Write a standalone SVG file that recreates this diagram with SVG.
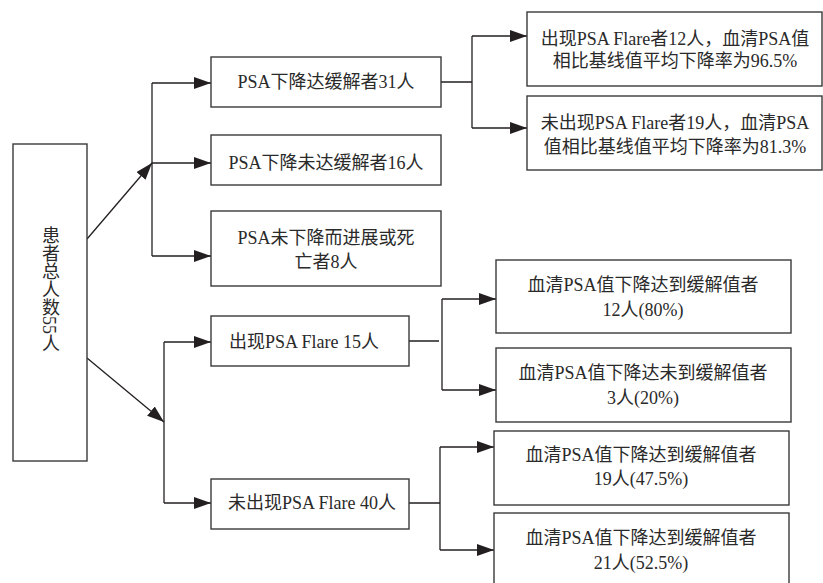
<svg xmlns="http://www.w3.org/2000/svg" width="823" height="583" viewBox="0 0 823 583">
<style>
.box{fill:#fff;stroke:#3a3a3a;stroke-width:1.4}
.t{font-family:"Liberation Serif","Noto Sans CJK SC",serif;font-size:18px;fill:#2a2a2a}
.c{text-anchor:middle}
.ln{fill:none;stroke:#231f20;stroke-width:1.3}
</style>
<defs>
<marker id="ah" markerUnits="userSpaceOnUse" markerWidth="18" markerHeight="12" refX="17" refY="6" orient="auto">
<path d="M0,0 L17,6 L0,12 Z" fill="#231f20"/>
</marker>
</defs>
<rect width="823" height="583" fill="#fff"/>
<g id="connectors">
<line class="ln" x1="87" y1="239" x2="152" y2="163" marker-end="url(#ah)"/>
<path class="ln" d="M152,83 V256"/>
<line class="ln" x1="152" y1="83" x2="211" y2="83" marker-end="url(#ah)"/>
<line class="ln" x1="152" y1="163" x2="211" y2="163" marker-end="url(#ah)"/>
<line class="ln" x1="152" y1="256" x2="211" y2="256" marker-end="url(#ah)"/>
<line class="ln" x1="87" y1="358" x2="164" y2="422" marker-end="url(#ah)"/>
<path class="ln" d="M164,342 V503"/>
<line class="ln" x1="164" y1="342" x2="211" y2="342" marker-end="url(#ah)"/>
<line class="ln" x1="164" y1="503" x2="211" y2="503" marker-end="url(#ah)"/>
<path class="ln" d="M441,82 H472 M472,36 V128"/>
<line class="ln" x1="472" y1="36" x2="527" y2="36" marker-end="url(#ah)"/>
<line class="ln" x1="472" y1="128" x2="527" y2="128" marker-end="url(#ah)"/>
<path class="ln" d="M409,341 H439 M442,299 V390"/>
<line class="ln" x1="442" y1="299" x2="496" y2="299" marker-end="url(#ah)"/>
<line class="ln" x1="442" y1="390" x2="496" y2="390" marker-end="url(#ah)"/>
<path class="ln" d="M409,503 H440 M440,447 V550"/>
<line class="ln" x1="440" y1="447" x2="494" y2="447" marker-end="url(#ah)"/>
<line class="ln" x1="440" y1="550" x2="494" y2="550" marker-end="url(#ah)"/>
</g>
<g id="total">
<rect class="box" x="13" y="144" width="74" height="317"/>
<text class="t c" x="49" y="289" style="writing-mode:vertical-rl">患者总人数55人</text>
</g>
<g id="n31">
<rect class="box" x="211" y="57" width="230" height="50"/>
<text class="t c" x="326" y="88">PSA下降达缓解者31人</text>
</g>
<g id="n16">
<rect class="box" x="211" y="135" width="230" height="50"/>
<text class="t c" x="326" y="169">PSA下降未达缓解者16人</text>
</g>
<g id="n8">
<rect class="box" x="211" y="211" width="230" height="75"/>
<text class="t c" x="326" y="244">PSA未下降而进展或死</text>
<text class="t c" x="326" y="268">亡者8人</text>
</g>
<g id="nA">
<rect class="box" x="527" y="12" width="295" height="74"/>
<text class="t c" x="675" y="45">出现PSA Flare者12人，血清PSA值</text>
<text class="t c" x="675" y="67">相比基线值平均下降率为96.5%</text>
</g>
<g id="nB">
<rect class="box" x="527" y="96" width="295" height="74"/>
<text class="t c" x="675" y="129">未出现PSA Flare者19人，血清PSA</text>
<text class="t c" x="675" y="153">值相比基线值平均下降率为81.3%</text>
</g>
<g id="flare15">
<rect class="box" x="211" y="316" width="198" height="50"/>
<text class="t" x="229" y="348">出现PSA Flare 15人</text>
</g>
<g id="flare40">
<rect class="box" x="211" y="479" width="198" height="50"/>
<text class="t" x="228" y="509">未出现PSA Flare 40人</text>
</g>
<g id="nC">
<rect class="box" x="496" y="260" width="295" height="73"/>
<text class="t c" x="643" y="291">血清PSA值下降达到缓解值者</text>
<text class="t c" x="643" y="316">12人(80%)</text>
</g>
<g id="nD">
<rect class="box" x="496" y="348" width="295" height="74"/>
<text class="t c" x="643" y="379">血清PSA值下降达未到缓解值者</text>
<text class="t c" x="643" y="404">3人(20%)</text>
</g>
<g id="nE">
<rect class="box" x="494" y="431" width="295" height="74"/>
<text class="t c" x="641" y="461">血清PSA值下降达到缓解值者</text>
<text class="t c" x="641" y="485">19人(47.5%)</text>
</g>
<g id="nF">
<rect class="box" x="494" y="513" width="295" height="80"/>
<text class="t c" x="641" y="544">血清PSA值下降达到缓解值者</text>
<text class="t c" x="641" y="569">21人(52.5%)</text>
</g>
</svg>
